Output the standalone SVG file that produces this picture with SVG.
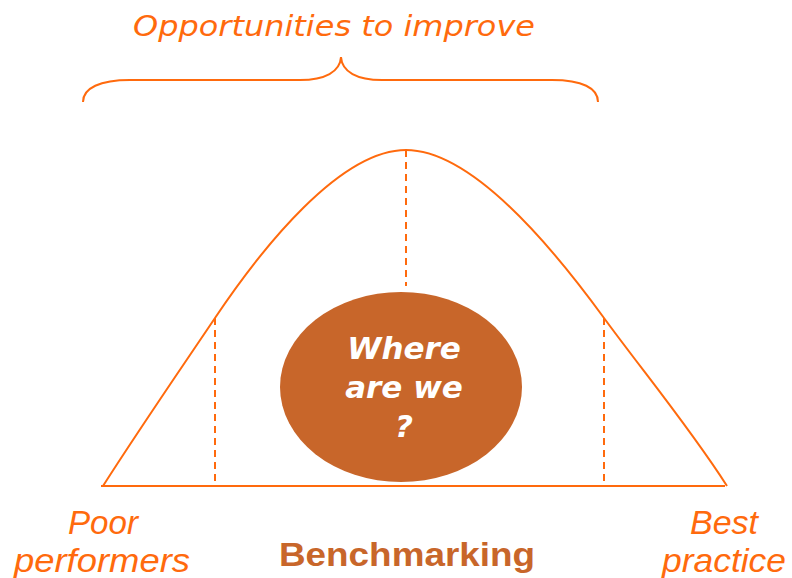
<svg xmlns="http://www.w3.org/2000/svg" width="792" height="578" viewBox="0 0 792 578">
  <style>
    .stroke { fill: none; stroke: #FF6A0D; stroke-width: 2; }
    .dash { fill: none; stroke: #FF6A0D; stroke-width: 2; stroke-dasharray: 7 5; }
    .label { fill: #FF6A0D; font-family: "Liberation Sans", Arial, sans-serif; font-style: italic; font-size: 33px; }
    .title { fill: #FF6A0D; font-family: "DejaVu Sans", Verdana, sans-serif; font-style: italic; font-size: 29px; }
    .bubble-text { fill: #FFFFFF; font-family: "DejaVu Sans", Verdana, sans-serif; font-style: italic; font-weight: bold; font-size: 31px; text-anchor: middle; }
    .bench { fill: #C8662A; font-family: "Liberation Sans", Arial, sans-serif; font-weight: bold; font-size: 34px; }
  </style>
  <rect width="792" height="578" fill="#FFFFFF"/>

  <!-- heading and brace -->
  <g id="heading">
    <text class="title" x="133" y="36" textLength="402" lengthAdjust="spacingAndGlyphs">Opportunities to improve</text>
    <path class="stroke" stroke-width="2.5" d="M83,102 C83,88 100,80 130,80 L300,80 C325,80 340,72 341,57 C342,72 357,80 382,80 L552,80 C582,80 598,88 598,102"/>
  </g>

  <!-- distribution curve and axis -->
  <g id="curve">
    <path class="stroke" d="M103,486 C140,428 180,370 215,318 C262,248 340,150 406,150 C472,150 553,248 604,318 C642,370 690,428 727,486"/>
    <line class="stroke" stroke-width="2.5" x1="101" y1="486" x2="725" y2="486"/>
  </g>
  <g id="guides">
    <line class="dash" x1="406" y1="150" x2="406" y2="286"/>
    <line class="dash" x1="215" y1="318" x2="215" y2="486"/>
    <line class="dash" x1="604" y1="318" x2="604" y2="486"/>
  </g>

  <!-- position bubble -->
  <g id="bubble">
    <ellipse cx="401" cy="387" rx="121" ry="95" fill="#C8662A"/>
    <text class="bubble-text" x="404" y="359">Where</text>
    <text class="bubble-text" x="404" y="398">are we</text>
    <text class="bubble-text" x="404" y="437">?</text>
  </g>

  <!-- axis labels -->
  <g id="poor">
    <text class="label" x="68" y="534" textLength="70" lengthAdjust="spacingAndGlyphs">Poor</text>
    <text class="label" x="14" y="572" textLength="176" lengthAdjust="spacingAndGlyphs">performers</text>
  </g>
  <g id="best">
    <text class="label" x="690" y="534" textLength="68" lengthAdjust="spacingAndGlyphs">Best</text>
    <text class="label" x="662" y="572" textLength="124" lengthAdjust="spacingAndGlyphs">practice</text>
  </g>
  <g id="benchmarking">
    <text class="bench" x="279" y="566" textLength="256" lengthAdjust="spacingAndGlyphs">Benchmarking</text>
  </g>
</svg>
